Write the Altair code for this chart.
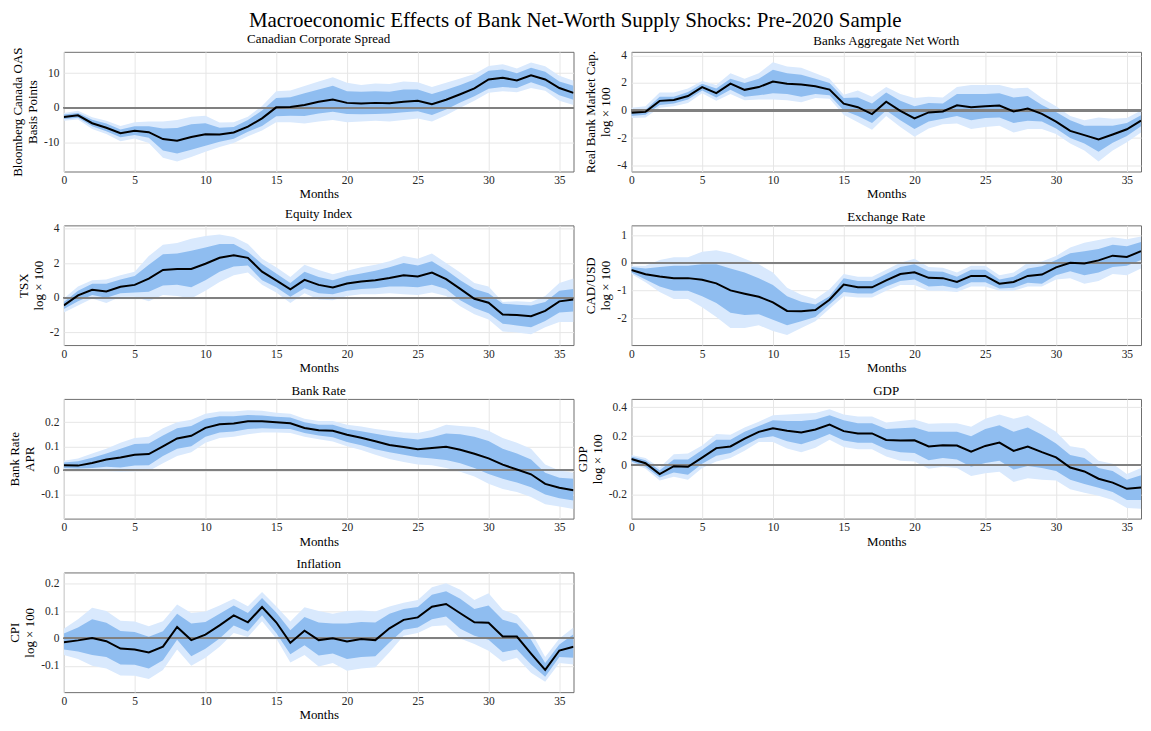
import altair as alt
import pandas as pd

months = list(range(37))

# Canadian Corporate Spread
spread_med = [-2.7, -2.2, -4.5, -5.8, -7.4, -6.7, -7.1, -9.1, -9.6, -8.5, -7.7, -7.8, -7.2, -5.5, -3.1, 0.1, 0.2, 0.8, 1.7, 2.4, 1.4, 1.2, 1.4, 1.3, 1.7, 2.0, 1.0, 2.3, 3.9, 5.6, 8.2, 8.7, 7.9, 9.4, 8.2, 5.7, 4.3]
spread_in_hi = [-2.0, -1.5, -3.5, -4.6, -6.3, -5.4, -5.4, -6.0, -5.9, -4.8, -4.5, -5.8, -5.6, -3.6, -0.8, 2.8, 3.0, 4.2, 5.3, 6.4, 4.8, 4.6, 4.8, 4.6, 5.3, 5.3, 4.0, 5.2, 6.6, 8.2, 10.7, 11.1, 10.0, 11.6, 10.4, 7.6, 6.4]
spread_in_lo = [-3.3, -2.9, -5.4, -6.8, -8.6, -7.9, -8.7, -12.4, -13.3, -12.2, -11.0, -9.9, -9.0, -7.0, -5.3, -2.5, -2.3, -2.4, -1.7, -1.2, -1.8, -1.9, -1.8, -1.7, -1.3, -1.0, -2.1, -0.5, 1.5, 3.3, 5.5, 6.0, 5.7, 7.4, 6.0, 3.6, 2.3]
spread_out_hi = [-1.5, -0.9, -2.8, -3.8, -5.3, -4.2, -4.0, -4.0, -3.6, -2.6, -2.3, -4.3, -4.2, -2.6, 0.5, 4.8, 5.0, 6.3, 7.6, 8.8, 7.2, 6.6, 7.0, 6.9, 7.6, 7.4, 6.0, 7.2, 8.5, 9.8, 12.1, 12.6, 11.4, 13.1, 12.0, 9.3, 7.8]
spread_out_lo = [-3.8, -3.4, -6.2, -7.6, -9.7, -8.9, -10.2, -14.5, -15.6, -14.3, -12.8, -11.4, -10.2, -8.3, -6.6, -4.2, -4.2, -4.6, -4.0, -3.6, -4.2, -4.0, -3.8, -4.0, -3.6, -3.1, -4.0, -2.2, 0.0, 2.0, 4.3, 4.8, 4.5, 5.7, 4.9, 2.0, 0.8]

# Banks Aggregate Net Worth
networth_med = [-0.17, -0.1, 0.7, 0.76, 1.05, 1.7, 1.26, 1.95, 1.5, 1.7, 2.1, 1.95, 1.88, 1.76, 1.52, 0.5, 0.24, -0.26, 0.64, -0.02, -0.57, -0.14, -0.07, 0.38, 0.24, 0.31, 0.36, -0.07, 0.14, -0.24, -0.81, -1.48, -1.79, -2.1, -1.74, -1.36, -0.74]
networth_in_hi = [0.0, 0.05, 1.0, 1.0, 1.35, 1.95, 1.6, 2.3, 2.0, 2.3, 2.95, 2.7, 2.6, 2.3, 2.0, 0.9, 0.95, 0.5, 1.3, 0.7, 0.3, 0.55, 0.5, 1.2, 1.2, 1.2, 1.25, 0.95, 1.05, 0.4, -0.1, -0.7, -1.1, -1.1, -1.1, -0.9, -0.35]
networth_in_lo = [-0.4, -0.3, 0.4, 0.5, 0.8, 1.45, 0.95, 1.5, 1.0, 1.1, 1.25, 1.2, 1.0, 1.2, 1.1, 0.0, -0.4, -0.9, 0.0, -0.7, -1.35, -0.8, -0.6, -0.4, -0.7, -0.55, -0.5, -0.9, -0.75, -0.8, -1.3, -2.0, -2.4, -3.0, -2.35, -1.85, -1.15]
networth_out_hi = [0.2, 0.3, 1.3, 1.3, 1.6, 2.15, 1.85, 2.7, 2.3, 2.7, 3.5, 3.2, 3.1, 2.7, 2.3, 1.15, 1.45, 1.0, 1.7, 1.2, 0.9, 1.0, 0.95, 1.7, 1.85, 1.85, 1.85, 1.6, 1.65, 0.9, 0.3, -0.4, -0.7, -0.5, -0.6, -0.55, 0.0]
networth_out_lo = [-0.55, -0.5, 0.2, 0.3, 0.55, 1.25, 0.7, 1.2, 0.75, 0.8, 0.8, 0.75, 0.6, 0.9, 0.85, -0.3, -0.85, -1.4, -0.4, -1.2, -1.9, -1.3, -1.0, -0.95, -1.35, -1.2, -1.1, -1.6, -1.35, -1.35, -1.7, -2.4, -2.9, -3.7, -2.9, -2.3, -1.6]

# Equity Index
equity_med = [-0.44, 0.13, 0.46, 0.36, 0.63, 0.74, 1.1, 1.6, 1.66, 1.66, 1.96, 2.3, 2.44, 2.3, 1.5, 1.0, 0.48, 1.03, 0.74, 0.59, 0.82, 0.93, 1.0, 1.14, 1.3, 1.22, 1.45, 1.07, 0.51, -0.06, -0.29, -0.97, -1.0, -1.07, -0.76, -0.21, -0.11]
equity_in_hi = [-0.25, 0.4, 0.8, 0.8, 1.05, 1.25, 1.9, 2.5, 2.55, 2.7, 2.9, 3.1, 3.1, 2.65, 1.95, 1.4, 0.85, 1.5, 1.2, 1.0, 1.25, 1.4, 1.55, 1.75, 2.0, 1.85, 2.1, 1.6, 1.0, 0.5, 0.25, -0.35, -0.4, -0.45, -0.25, 0.4, 0.5]
equity_in_lo = [-0.65, -0.2, 0.15, 0.0, 0.25, 0.3, 0.35, 0.7, 0.75, 0.6, 1.0, 1.5, 1.8, 1.85, 1.0, 0.6, 0.05, 0.55, 0.25, 0.2, 0.4, 0.5, 0.55, 0.65, 0.65, 0.6, 0.75, 0.5, -0.15, -0.6, -0.9, -1.5, -1.6, -1.7, -1.35, -0.85, -0.8]
equity_out_hi = [-0.05, 0.65, 1.0, 1.05, 1.3, 1.5, 2.4, 3.05, 3.15, 3.4, 3.55, 3.65, 3.5, 3.1, 2.25, 1.75, 1.2, 1.9, 1.6, 1.35, 1.55, 1.75, 1.9, 2.1, 2.4, 2.25, 2.55, 2.0, 1.45, 0.85, 0.65, -0.25, -0.2, -0.25, 0.1, 0.85, 1.1]
equity_out_lo = [-0.85, -0.45, -0.05, -0.3, 0.05, 0.05, -0.2, 0.15, 0.1, -0.05, 0.4, 0.9, 1.3, 1.45, 0.75, 0.3, -0.3, 0.25, -0.1, -0.15, 0.1, 0.2, 0.2, 0.25, 0.2, 0.15, 0.3, 0.1, -0.5, -0.95, -1.25, -1.95, -2.0, -2.1, -1.7, -1.4, -1.4]

# Exchange Rate
fx_med = [-0.26, -0.41, -0.49, -0.55, -0.55, -0.61, -0.74, -0.99, -1.11, -1.22, -1.42, -1.73, -1.74, -1.7, -1.33, -0.78, -0.88, -0.88, -0.63, -0.4, -0.34, -0.54, -0.55, -0.69, -0.47, -0.47, -0.75, -0.69, -0.47, -0.42, -0.16, 0.0, -0.02, 0.09, 0.26, 0.21, 0.42]
fx_in_hi = [-0.15, -0.2, -0.15, -0.1, -0.1, -0.05, -0.05, -0.2, -0.35, -0.55, -0.8, -1.2, -1.4, -1.5, -1.2, -0.55, -0.65, -0.65, -0.4, -0.15, -0.05, -0.3, -0.32, -0.5, -0.25, -0.25, -0.6, -0.5, -0.2, -0.12, 0.1, 0.35, 0.42, 0.5, 0.65, 0.6, 0.75]
fx_in_lo = [-0.35, -0.6, -0.85, -1.0, -1.0, -1.2, -1.45, -1.8, -1.88, -1.85, -2.05, -2.25, -2.1, -1.95, -1.5, -1.05, -1.1, -1.1, -0.85, -0.65, -0.6, -0.85, -0.82, -0.92, -0.7, -0.7, -0.92, -0.9, -0.72, -0.75, -0.45, -0.3, -0.45, -0.35, -0.15, -0.1, 0.1]
fx_out_hi = [-0.1, -0.1, 0.1, 0.2, 0.2, 0.4, 0.45, 0.35, 0.15, -0.05, -0.35, -0.9, -1.15, -1.3, -0.95, -0.4, -0.5, -0.5, -0.25, 0.0, 0.15, -0.15, -0.18, -0.35, -0.1, -0.1, -0.45, -0.35, 0.0, 0.05, 0.25, 0.55, 0.72, 0.82, 0.92, 0.85, 0.95]
fx_out_lo = [-0.4, -0.7, -1.05, -1.3, -1.3, -1.6, -1.95, -2.35, -2.35, -2.25, -2.45, -2.6, -2.35, -2.1, -1.65, -1.2, -1.25, -1.25, -1.0, -0.8, -0.8, -1.0, -1.0, -1.05, -0.85, -0.85, -1.0, -1.0, -0.85, -0.85, -0.6, -0.55, -0.75, -0.65, -0.4, -0.45, -0.2]

# Bank Rate
rate_med = [0.022, 0.02, 0.031, 0.045, 0.054, 0.065, 0.068, 0.1, 0.133, 0.144, 0.177, 0.192, 0.195, 0.204, 0.204, 0.2, 0.196, 0.176, 0.167, 0.165, 0.148, 0.136, 0.121, 0.106, 0.097, 0.088, 0.093, 0.098, 0.086, 0.069, 0.05, 0.024, 0.004, -0.016, -0.056, -0.072, -0.082]
rate_in_hi = [0.033, 0.038, 0.053, 0.07, 0.09, 0.11, 0.112, 0.145, 0.175, 0.185, 0.215, 0.225, 0.225, 0.23, 0.228, 0.223, 0.22, 0.2, 0.19, 0.19, 0.172, 0.163, 0.152, 0.142, 0.135, 0.128, 0.138, 0.153, 0.15, 0.14, 0.122, 0.09, 0.07, 0.045, -0.01, -0.03, -0.035]
rate_in_lo = [0.01, 0.008, 0.01, 0.015, 0.012, 0.02, 0.022, 0.06, 0.09, 0.1, 0.14, 0.158, 0.162, 0.172, 0.175, 0.173, 0.172, 0.155, 0.145, 0.138, 0.118, 0.105, 0.088, 0.075, 0.065, 0.055, 0.05, 0.043, 0.03, 0.01, -0.015, -0.035, -0.05, -0.07, -0.1, -0.115, -0.125]
rate_out_hi = [0.04, 0.05, 0.07, 0.09, 0.115, 0.135, 0.14, 0.175, 0.2, 0.21, 0.235, 0.245, 0.245, 0.25, 0.248, 0.24, 0.235, 0.215, 0.205, 0.205, 0.19, 0.182, 0.172, 0.165, 0.158, 0.155, 0.168, 0.19, 0.185, 0.18, 0.165, 0.135, 0.115, 0.09, 0.025, 0.0, -0.01]
rate_out_lo = [0.005, 0.0, 0.0, -0.002, -0.005, -0.003, -0.002, 0.03, 0.06, 0.075, 0.115, 0.135, 0.14, 0.15, 0.158, 0.158, 0.155, 0.14, 0.13, 0.12, 0.1, 0.085, 0.065, 0.047, 0.035, 0.025, 0.022, 0.01, -0.005, -0.025, -0.055, -0.077, -0.09, -0.11, -0.14, -0.15, -0.16]

# GDP
gdp_med = [0.043, 0.014, -0.061, -0.007, -0.011, 0.052, 0.118, 0.129, 0.183, 0.23, 0.255, 0.237, 0.226, 0.246, 0.28, 0.235, 0.219, 0.219, 0.174, 0.17, 0.172, 0.129, 0.138, 0.136, 0.093, 0.133, 0.156, 0.099, 0.129, 0.09, 0.054, -0.016, -0.043, -0.093, -0.12, -0.163, -0.154]
gdp_in_hi = [0.06, 0.035, -0.035, 0.04, 0.04, 0.105, 0.175, 0.175, 0.23, 0.27, 0.31, 0.305, 0.305, 0.315, 0.345, 0.31, 0.29, 0.29, 0.25, 0.255, 0.26, 0.23, 0.23, 0.23, 0.2, 0.25, 0.275, 0.23, 0.26, 0.21, 0.15, 0.07, 0.05, -0.02, -0.04, -0.1, -0.07]
gdp_in_lo = [0.025, -0.01, -0.085, -0.05, -0.065, 0.01, 0.065, 0.085, 0.135, 0.185, 0.2, 0.165, 0.145, 0.175, 0.215, 0.17, 0.155, 0.155, 0.11, 0.09, 0.085, 0.035, 0.05, 0.04, -0.01, 0.015, 0.03, -0.03, -0.005, -0.02, -0.04, -0.1, -0.13, -0.155, -0.185, -0.24, -0.24]
gdp_out_hi = [0.07, 0.05, -0.015, 0.075, 0.08, 0.135, 0.215, 0.21, 0.26, 0.3, 0.345, 0.35, 0.355, 0.36, 0.385, 0.35, 0.335, 0.335, 0.295, 0.305, 0.315, 0.285, 0.29, 0.29, 0.265, 0.32, 0.35, 0.32, 0.345, 0.29, 0.23, 0.13, 0.115, 0.03, 0.01, -0.06, -0.02]
gdp_out_lo = [0.015, -0.025, -0.105, -0.08, -0.1, -0.02, 0.025, 0.05, 0.1, 0.16, 0.16, 0.115, 0.09, 0.12, 0.175, 0.125, 0.11, 0.11, 0.06, 0.03, 0.025, -0.025, -0.01, -0.02, -0.075, -0.055, -0.045, -0.115, -0.09, -0.1, -0.105, -0.165, -0.19, -0.21, -0.24, -0.295, -0.3]

# Inflation
cpi_med = [-0.014, -0.007, 0.002, -0.01, -0.037, -0.04, -0.051, -0.03, 0.042, -0.006, 0.014, 0.048, 0.084, 0.059, 0.115, 0.059, -0.016, 0.028, -0.006, 0.001, -0.011, -0.002, -0.006, 0.037, 0.068, 0.077, 0.116, 0.126, 0.092, 0.059, 0.057, 0.007, 0.007, -0.055, -0.115, -0.044, -0.03]
cpi_in_hi = [0.018, 0.04, 0.07, 0.057, 0.027, 0.024, 0.006, 0.026, 0.09, 0.055, 0.06, 0.09, 0.12, 0.093, 0.148, 0.095, 0.03, 0.078, 0.058, 0.055, 0.055, 0.06, 0.058, 0.09, 0.108, 0.115, 0.16, 0.172, 0.145, 0.108, 0.12, 0.068, 0.055, -0.005, -0.09, -0.022, 0.015]
cpi_in_lo = [-0.04, -0.048, -0.06, -0.068, -0.095, -0.096, -0.11, -0.08, -0.005, -0.065, -0.038, 0.0, 0.047, 0.025, 0.085, 0.02, -0.058, -0.025, -0.062, -0.055, -0.075, -0.068, -0.065, -0.015, 0.032, 0.04, 0.07, 0.08, 0.035, 0.01, -0.005, -0.05, -0.04, -0.095, -0.14, -0.068, -0.07]
cpi_out_hi = [0.035, 0.07, 0.112, 0.1, 0.065, 0.062, 0.045, 0.063, 0.124, 0.093, 0.098, 0.12, 0.145, 0.118, 0.17, 0.118, 0.062, 0.114, 0.1, 0.09, 0.1, 0.102, 0.098, 0.117, 0.13, 0.14, 0.187, 0.202, 0.178, 0.14, 0.165, 0.105, 0.085, 0.025, -0.068, 0.0, 0.04]
cpi_out_lo = [-0.06, -0.075, -0.1, -0.11, -0.135, -0.136, -0.148, -0.115, -0.04, -0.1, -0.07, -0.03, 0.02, 0.005, 0.063, 0.0, -0.088, -0.06, -0.102, -0.09, -0.118, -0.11, -0.105, -0.05, 0.01, 0.02, 0.045, 0.048, 0.0, -0.02, -0.045, -0.085, -0.07, -0.125, -0.158, -0.09, -0.095]

OUTER = "#d9e9fd"
INNER = "#8fbdf0"
ZERO = "#808080"
GRID = "#e6e6e6"
FONT = "Liberation Serif"
W, H = 511, 120

LABEL_EXPR = "datum.value < 0 ? '-' + format(-datum.value, '~g') : format(datum.value, '~g')"


def panel(title, ytitle, med, ilo, ihi, olo, ohi, domain, yticks):
    df = pd.DataFrame({"month": months, "med": med, "ilo": ilo, "ihi": ihi, "olo": olo, "ohi": ohi})
    xs = alt.Scale(domain=[0, 36], nice=False, zero=False)
    ys = alt.Scale(domain=domain, nice=False, zero=False)
    xax = alt.Axis(values=[0, 5, 10, 15, 20, 25, 30, 35], title="Months", grid=True, ticks=False,
                   domain=False, labelPadding=3, titlePadding=2, labelFlush=False)
    yax = alt.Axis(values=yticks, title=ytitle, grid=True, ticks=False, domain=False,
                   labelPadding=5, titlePadding=4, labelExpr=LABEL_EXPR)
    x = alt.X("month:Q", scale=xs, axis=xax)
    base = alt.Chart(df)
    outer = base.mark_area(color=OUTER, opacity=1, clip=True).encode(
        x=x, y=alt.Y("olo:Q", scale=ys, axis=yax), y2="ohi:Q")
    inner = base.mark_area(color=INNER, opacity=1, clip=True).encode(
        x=x, y=alt.Y("ilo:Q", scale=ys, axis=yax), y2="ihi:Q")
    zero = base.mark_rule(color=ZERO, strokeWidth=1.3).encode(
        y=alt.Y(datum=0, scale=ys, axis=yax))
    line = base.mark_line(color="black", strokeWidth=2, clip=True).encode(
        x=x, y=alt.Y("med:Q", scale=ys, axis=yax))
    return alt.layer(outer, inner, zero, line).properties(
        width=W, height=H,
        title=alt.TitleParams(title, fontSize=13, font=FONT, fontWeight="normal", offset=1, color="#000"))


p1 = panel("Canadian Corporate Spread", ["Bloomberg Canada OAS", "Basis Points"],
           spread_med, spread_in_lo, spread_in_hi, spread_out_lo, spread_out_hi, [-18.5, 16.2], [-10, 0, 10])
p2 = panel("Banks Aggregate Net Worth", ["Real Bank Market Cap.", "log × 100"],
           networth_med, networth_in_lo, networth_in_hi, networth_out_lo, networth_out_hi, [-4.43, 4.26], [-4, -2, 0, 2, 4])
p3 = panel("Equity Index", ["TSX", "log × 100"],
           equity_med, equity_in_lo, equity_in_hi, equity_out_lo, equity_out_hi, [-2.73, 4.17], [-2, 0, 2, 4])
p4 = panel("Exchange Rate", ["CAD/USD", "log × 100"],
           fx_med, fx_in_lo, fx_in_hi, fx_out_lo, fx_out_hi, [-2.96, 1.35], [-2, -1, 0, 1])
p5 = panel("Bank Rate", ["Bank Rate", "APR"],
           rate_med, rate_in_lo, rate_in_hi, rate_out_lo, rate_out_hi, [-0.2, 0.297], [-0.1, 0, 0.1, 0.2])
p6 = panel("GDP", ["GDP", "log × 100"],
           gdp_med, gdp_in_lo, gdp_in_hi, gdp_out_lo, gdp_out_hi, [-0.368, 0.457], [-0.2, 0, 0.2, 0.4])
p7 = panel("Inflation", ["CPI", "log × 100"],
           cpi_med, cpi_in_lo, cpi_in_hi, cpi_out_lo, cpi_out_hi, [-0.196, 0.241], [-0.1, 0, 0.1, 0.2])

chart = alt.concat(p1, p2, p3, p4, p5, p6, p7, columns=2,
                   spacing={"row": 54, "column": 58}, bounds="flush").properties(
    title=alt.TitleParams("Macroeconomic Effects of Bank Net-Worth Supply Shocks: Pre-2020 Sample",
                          fontSize=21, font=FONT, fontWeight="normal", anchor="middle", color="#000", offset=2),
    padding={"left": 0, "right": 0, "top": 0, "bottom": 0}
).configure_axis(
    labelFont=FONT, titleFont=FONT, labelFontSize=11.5, titleFontSize=13,
    labelColor="#262626", titleColor="#000", titleFontWeight="normal",
    gridColor=GRID, gridWidth=1
).configure_view(
    stroke="#6e6e6e", strokeWidth=1
)

chart.save("out.html", embed_options={"renderer": "svg", "actions": False})
